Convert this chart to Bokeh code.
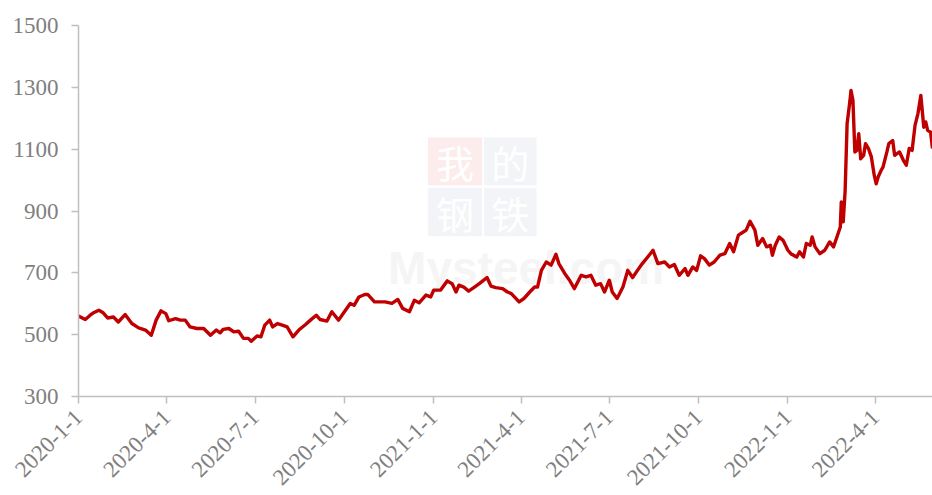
import math
import pandas as pd
from bokeh.plotting import figure
from bokeh.models import FixedTicker, BoxAnnotation, Label, ColumnDataSource
from bokeh.embed import file_html
from bokeh.resources import INLINE

# ---- data ----
dates = [
    "2020-01-01", "2020-01-08", "2020-01-13", "2020-01-16", "2020-01-22", "2020-01-26", "2020-01-31",
    "2020-02-06", "2020-02-11", "2020-02-18", "2020-02-25", "2020-03-03", "2020-03-10", "2020-03-16",
    "2020-03-21", "2020-03-26", "2020-03-31", "2020-04-03", "2020-04-10", "2020-04-15", "2020-04-20",
    "2020-04-25", "2020-05-02", "2020-05-09", "2020-05-16", "2020-05-22", "2020-05-26", "2020-05-29",
    "2020-06-04", "2020-06-09", "2020-06-14", "2020-06-19", "2020-06-24", "2020-06-27", "2020-07-03",
    "2020-07-07", "2020-07-11", "2020-07-16", "2020-07-19", "2020-07-24", "2020-07-29", "2020-08-03",
    "2020-08-09", "2020-08-15", "2020-08-22", "2020-08-27", "2020-09-02", "2020-09-06", "2020-09-13",
    "2020-09-18", "2020-09-25", "2020-10-01", "2020-10-07", "2020-10-11", "2020-10-16", "2020-10-22",
    "2020-10-25", "2020-11-01", "2020-11-06", "2020-11-12", "2020-11-19", "2020-11-25", "2020-11-30",
    "2020-12-07", "2020-12-12", "2020-12-17", "2020-12-24", "2020-12-29", "2021-01-01", "2021-01-08",
    "2021-01-15", "2021-01-20", "2021-01-24", "2021-01-27", "2021-02-01", "2021-02-06", "2021-02-12",
    "2021-02-17", "2021-02-25", "2021-03-01", "2021-03-06", "2021-03-13", "2021-03-18", "2021-03-22",
    "2021-03-30", "2021-04-04", "2021-04-10", "2021-04-15", "2021-04-18", "2021-04-22", "2021-04-27",
    "2021-05-02", "2021-05-07", "2021-05-10", "2021-05-16", "2021-05-21", "2021-05-26", "2021-06-02",
    "2021-06-07", "2021-06-12", "2021-06-17", "2021-06-22", "2021-06-26", "2021-07-01", "2021-07-04",
    "2021-07-09", "2021-07-15", "2021-07-20", "2021-07-25", "2021-07-30", "2021-08-04", "2021-08-11",
    "2021-08-15", "2021-08-20", "2021-08-27", "2021-09-01", "2021-09-06", "2021-09-11", "2021-09-17",
    "2021-09-20", "2021-09-25", "2021-09-29", "2021-10-03", "2021-10-07", "2021-10-12", "2021-10-17",
    "2021-10-23", "2021-10-28", "2021-11-02", "2021-11-06", "2021-11-11", "2021-11-16", "2021-11-19",
    "2021-11-23", "2021-11-28", "2021-12-01", "2021-12-06", "2021-12-10", "2021-12-14", "2021-12-16",
    "2021-12-19", "2021-12-23", "2021-12-27", "2022-01-01", "2022-01-04", "2022-01-10", "2022-01-13",
    "2022-01-17", "2022-01-20", "2022-01-24", "2022-01-26", "2022-01-29", "2022-02-03", "2022-02-08",
    "2022-02-13", "2022-02-17", "2022-02-20", "2022-02-24", "2022-02-25", "2022-02-27", "2022-03-01",
    "2022-03-03", "2022-03-06", "2022-03-07", "2022-03-09", "2022-03-11", "2022-03-13", "2022-03-15",
    "2022-03-17", "2022-03-20", "2022-03-22", "2022-03-25", "2022-03-28", "2022-03-31", "2022-04-02",
    "2022-04-04", "2022-04-07", "2022-04-09", "2022-04-13", "2022-04-15", "2022-04-19", "2022-04-21",
    "2022-04-26", "2022-04-30", "2022-05-03", "2022-05-06", "2022-05-09", "2022-05-12", "2022-05-15",
    "2022-05-18", "2022-05-21", "2022-05-23", "2022-05-25", "2022-05-28", "2022-05-30",
]
prices = [
    560, 549, 563, 570, 579, 572, 554,
    557, 541, 565, 536, 522, 515, 498,
    547, 577, 568, 545, 552, 547, 547,
    525, 520, 520, 498, 515, 506, 517,
    520, 509, 511, 488, 488, 479, 496,
    493, 531, 547, 525, 536, 531, 525,
    493, 515, 533, 547, 563, 549, 544,
    574, 547, 574, 601, 595, 622, 630,
    630, 606, 606, 606, 601, 614, 585,
    574, 611, 603, 628, 622, 644, 644,
    674, 665, 638, 660, 654, 641, 654,
    665, 685, 657, 652, 649, 638, 633,
    606, 617, 638, 654, 654, 708, 735,
    725, 760, 730, 698, 676, 649, 692,
    687, 692, 660, 665, 638, 676, 638,
    617, 654, 708, 685, 708, 730, 757,
    773, 730, 735, 719, 727, 692, 714,
    692, 719, 708, 755, 746, 725, 735,
    757, 762, 795, 768, 822, 832, 838,
    867, 838, 789, 811, 784, 789, 757,
    789, 816, 805, 773, 762, 751, 768,
    751, 795, 789, 816, 784, 762, 773,
    800, 784, 811, 848, 929, 865, 967,
    1182, 1258, 1290, 1258, 1091, 1096, 1150,
    1069, 1080, 1118, 1102, 1075, 1015, 988,
    1010, 1031, 1042, 1091, 1118, 1128, 1080,
    1091, 1064, 1048, 1102, 1096, 1177, 1215,
    1274, 1171, 1188, 1161, 1155, 1102,
]
x_tick_labels = ["2020-1-1", "2020-4-1", "2020-7-1", "2020-10-1", "2021-1-1",
                 "2021-4-1", "2021-7-1", "2021-10-1", "2022-1-1", "2022-4-1"]
y_ticks = [300, 500, 700, 900, 1100, 1300, 1500]
x_start, x_end = "2020-01-01", "2022-05-30"

# ---- figure ----
FONT = "Liberation Serif"
TXT = "#7f7f7f"
AX = "#bfbfbf"

src = ColumnDataSource(dict(d=pd.to_datetime(dates), v=prices))

p = figure(width=932, height=495, x_axis_type="datetime",
           x_range=(pd.Timestamp(x_start), pd.Timestamp(x_end)),
           y_range=(300, 1500),
           output_backend="svg", toolbar_location=None,
           min_border_left=78, min_border_right=0, min_border_top=25, min_border_bottom=99)
p.outline_line_color = None
p.xgrid.visible = False
p.ygrid.visible = False
p.background_fill_color = "white"
p.border_fill_color = "white"

# watermark (faint)
def ts(s):
    return pd.Timestamp(s)

wm_boxes = [("2020-12-26", "2021-02-20", 1138, 983, "#fcecec"),
            ("2021-02-22", "2021-04-17", 1138, 983, "#f3f4f7"),
            ("2020-12-26", "2021-02-20", 974, 818, "#f3f4f7"),
            ("2021-02-22", "2021-04-17", 974, 818, "#f3f4f7")]
for l, r, t, b, c in wm_boxes:
    p.add_layout(BoxAnnotation(left=ts(l), right=ts(r), top=t, bottom=b,
                               fill_color=c, fill_alpha=1.0, line_color=None, level="underlay"))
for ch, dx, yv in [("我", "2021-01-23", 1060), ("的", "2021-03-21", 1060),
                   ("钢", "2021-01-23", 896), ("铁", "2021-03-21", 896)]:
    p.add_layout(Label(x=ts(dx), y=yv, text=ch, text_font="Noto Sans CJK SC",
                       text_font_size="38px", text_color="white", text_align="center",
                       text_baseline="middle", level="underlay"))
p.add_layout(Label(x=ts("2020-11-15"), y=715, text="Mysteel.com", text_font="Liberation Sans",
                   text_font_style="bold", text_font_size="46px", text_color="#f5f5f5",
                   text_baseline="alphabetic", level="underlay"))

p.line("d", "v", source=src, line_color="#c00000", line_width=3.4, line_join="round")

# axes
tick_ms = [pd.Timestamp(pd.to_datetime(s)).value / 1e6 for s in x_tick_labels]
p.xaxis.ticker = FixedTicker(ticks=tick_ms)
p.xaxis.major_label_overrides = {t: s for t, s in zip(tick_ms, x_tick_labels)}
p.xaxis.major_label_orientation = math.pi / 4
p.yaxis.ticker = FixedTicker(ticks=y_ticks)

for ax in (p.xaxis[0], p.yaxis[0]):
    ax.axis_line_color = AX
    ax.axis_line_width = 1.5
    ax.major_tick_line_color = AX
    ax.major_tick_line_width = 1.5
    ax.major_tick_out = 7
    ax.major_tick_in = 0
    ax.minor_tick_line_color = None
    ax.major_label_text_font = FONT
    ax.major_label_text_font_size = "23px"
    ax.major_label_text_color = TXT
p.yaxis.major_label_standoff = 13
p.xaxis.major_label_standoff = 10

open("out.html", "w").write(file_html(p, INLINE))
